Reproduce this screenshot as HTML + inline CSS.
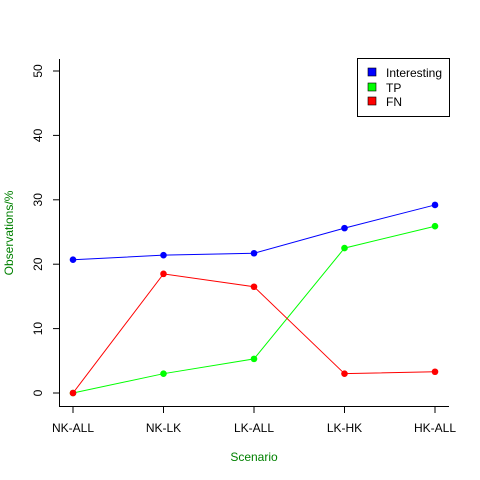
<!DOCTYPE html>
<html><head><meta charset="utf-8"><style>body{margin:0;background:#fff}svg{display:block;font-family:"Liberation Sans",sans-serif}</style></head>
<body>
<svg id="c" width="480" height="480">
<g id="axes"></g><g id="marks"></g>
<g>
<rect x="357.5" y="58.5" width="92" height="58" fill="#fff" stroke="#000"/>
<g><rect x="368" y="68" width="8" height="8" fill="#00f" stroke="#000" stroke-width="0.6"/><text x="386" y="77" font-size="12">Interesting</text></g>
<g><rect x="368" y="83" width="8" height="8" fill="#0f0" stroke="#000" stroke-width="0.6"/><text x="386" y="92" font-size="12">TP</text></g>
<g><rect x="368" y="97" width="8" height="8" fill="#f00" stroke="#000" stroke-width="0.6"/><text x="386" y="106" font-size="12">FN</text></g>
</g>
<text x="254" y="461" font-size="12" fill="#008000" text-anchor="middle">Scenario</text>
<text transform="translate(13,233) rotate(-90)" font-size="12" fill="#008000" text-anchor="middle">Observations/%</text>
</svg>
<script>
const categories=["NK-ALL","NK-LK","LK-ALL","LK-HK","HK-ALL"];
const interesting=[20.7,21.4,21.7,25.6,29.2];
const tp=[0,3,5.3,22.5,25.9];
const fn=[0,18.5,16.5,3,3.3];
const yTicks=[0,10,20,30,40,50];
const NS="http://www.w3.org/2000/svg";
const xS=i=>73+i*(435-73)/(categories.length-1);
const yS=v=>393-v*(393-71)/50;
const axes=document.getElementById('axes'),marks=document.getElementById('marks');
function mk(tag,attrs,parent){const e=document.createElementNS(NS,tag);for(const k in attrs)e.setAttribute(k,attrs[k]);parent.appendChild(e);return e;}
let a=mk('path',{d:'M59.5,59 V406.5 H449',fill:'none',stroke:'#000'},axes);


yTicks.forEach(t=>{const y=yS(t);
 const l=mk('line',{x1:53,x2:59,y1:y,y2:y,stroke:'#000'},axes);
 
 
 const tx=mk('text',{transform:`translate(42,${y}) rotate(-90)`,'font-size':12,'text-anchor':'middle'},axes);tx.textContent=t;
 
 });
categories.forEach((c,i)=>{const x=xS(i);
 const l=mk('line',{x1:x,x2:x,y1:406,y2:413,stroke:'#000'},axes);
 
 
 const tx=mk('text',{x:x,y:432,'font-size':12,'text-anchor':'middle'},axes);tx.textContent=c;
 
 });
[[interesting,'#0000ff','interesting'],[tp,'#00ff00','tp'],[fn,'#ff0000','fn']].forEach(([d,col,n])=>{
 const p=mk('polyline',{points:d.map((v,i)=>xS(i)+','+yS(v)).join(' '),fill:'none',stroke:col,'stroke-width':1},marks);
 
 
 d.forEach((v,i)=>{const c=mk('circle',{cx:xS(i),cy:yS(v),r:3.3,fill:col},marks);
  
  });
});
</script>
</body></html>
